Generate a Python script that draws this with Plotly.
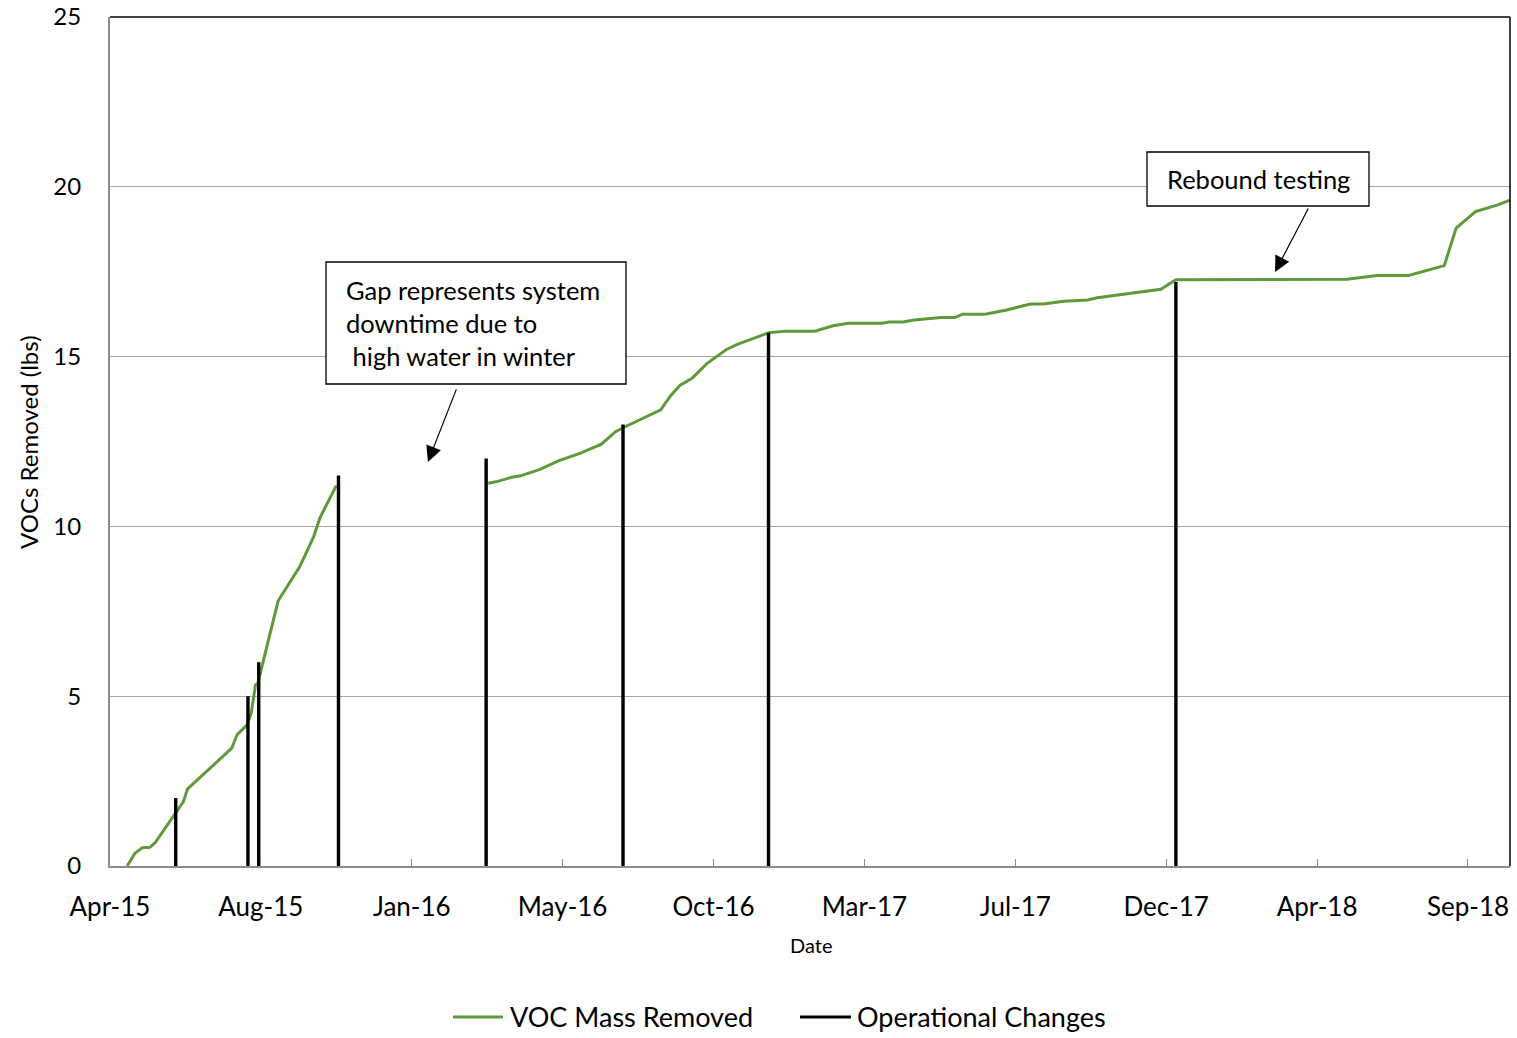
import plotly.graph_objects as go

# Cumulative VOC mass removed (lbs); None marks the winter downtime gap
voc_dates = [
    "2015-04-17", "2015-04-24", "2015-05-01", "2015-05-08", "2015-05-13",
    "2015-06-08", "2015-06-12", "2015-07-23", "2015-07-28", "2015-08-06",
    "2015-08-10", "2015-08-14", "2015-08-16", "2015-09-04", "2015-09-24",
    "2015-10-07", "2015-10-13", "2015-10-28",
    None,
    "2016-03-17", "2016-03-25", "2016-04-08", "2016-04-16", "2016-05-04",
    "2016-05-21", "2016-06-10", "2016-06-23", "2016-06-30", "2016-07-13",
    "2016-07-21", "2016-08-24", "2016-09-02", "2016-09-11", "2016-09-22",
    "2016-10-06", "2016-10-24", "2016-11-03", "2016-12-02", "2016-12-18",
    "2017-01-14", "2017-01-31", "2017-02-14", "2017-03-17", "2017-03-24",
    "2017-04-06", "2017-04-16", "2017-05-11", "2017-05-24", "2017-05-31",
    "2017-06-21", "2017-07-11", "2017-08-02", "2017-08-14", "2017-09-02",
    "2017-09-24", "2017-10-03", "2017-12-01", "2017-12-15", "2018-05-23",
    "2018-06-01", "2018-06-20", "2018-07-19", "2018-08-19", "2018-08-21",
    "2018-09-01", "2018-09-19", "2018-10-09", "2018-10-21",
]
voc_lbs = [
    0.0, 0.37, 0.54, 0.55, 0.69,
    1.89, 2.27, 3.47, 3.87, 4.15,
    4.5, 5.33, 5.36, 7.81, 8.81,
    9.70, 10.27, 11.2,
    None,
    11.27, 11.32, 11.45, 11.49, 11.68,
    11.93, 12.15, 12.33, 12.42, 12.79,
    12.92, 13.43, 13.84, 14.16, 14.36,
    14.80, 15.21, 15.36, 15.70, 15.75,
    15.75, 15.91, 15.98, 15.98, 16.02,
    16.02, 16.08, 16.15, 16.15, 16.25,
    16.25, 16.37, 16.55, 16.55, 16.63,
    16.67, 16.73, 16.98, 17.26, 17.28,
    17.32, 17.39, 17.39, 17.65, 17.68,
    18.78, 19.27, 19.46, 19.61,
]

# Operational change markers: date and bar height
change_dates = [
    "2015-06-01", "2015-08-07", "2015-08-17", "2015-10-30",
    "2016-03-15", "2016-07-20", "2016-12-02", "2017-12-15",
]
change_heights = [2.0, 5.0, 6.0, 11.5, 12.0, 13.0, 15.7, 17.2]

y_ticks = [0, 5, 10, 15, 20, 25]

series_names = ["VOC Mass Removed", "Operational Changes"]

FONT = "Lato"
GREEN = "#5E9A3A"
DAY_MS = 86400000

# plot area in pixels (used to place callouts and the legend)
L, R, T, B = 110, 1510, 17, 866
W, H = R - L, B - T


def px(x):
    return (x - L) / W


def py(y):
    return (B - y) / H


# Build vertical segments from 0 up to each change height
seg_x, seg_y = [], []
for d, h in zip(change_dates, change_heights):
    seg_x += [d, d, None]
    seg_y += [0, h, None]

fig = go.Figure()
fig.add_trace(go.Scatter(
    x=voc_dates, y=voc_lbs, mode="lines", name=series_names[0],
    line=dict(color=GREEN, width=3), connectgaps=False, showlegend=False,
))
fig.add_trace(go.Scatter(
    x=seg_x, y=seg_y, mode="lines", name=series_names[1],
    line=dict(color="black", width=3.4), connectgaps=False, showlegend=False,
))

shapes = [
    # plot area border on top and right
    dict(type="line", xref="paper", yref="paper", x0=0, x1=1, y0=1, y1=1,
         line=dict(color="black", width=1.5)),
    dict(type="line", xref="paper", yref="paper", x0=1, x1=1, y0=0, y1=1,
         line=dict(color="black", width=1.5)),
    # callout boxes
    dict(type="rect", xref="paper", yref="paper",
         x0=px(326), x1=px(626), y0=py(384), y1=py(262),
         line=dict(color="black", width=1.3), fillcolor="white", layer="above"),
    dict(type="rect", xref="paper", yref="paper",
         x0=px(1147), x1=px(1369), y0=py(206), y1=py(152),
         line=dict(color="black", width=1.3), fillcolor="white", layer="above"),
    # legend line samples
    dict(type="line", xref="paper", yref="paper",
         x0=px(453), x1=px(503), y0=py(1017), y1=py(1017),
         line=dict(color=GREEN, width=3)),
    dict(type="line", xref="paper", yref="paper",
         x0=px(800), x1=px(851), y0=py(1017), y1=py(1017),
         line=dict(color="black", width=3)),
]

annotations = [
    dict(xref="paper", yref="paper", x=px(344), y=py(323),
         xanchor="left", yanchor="middle", align="left", showarrow=False,
         text="Gap represents system<br>downtime due to<br>\u00a0high water in winter",
         font=dict(size=25.5, family=FONT, color="black")),
    dict(xref="paper", yref="paper", x=px(1258), y=py(179),
         xanchor="center", yanchor="middle", showarrow=False,
         text="Rebound testing",
         font=dict(size=25.5, family=FONT, color="black")),
    # arrows pointing from the callouts
    dict(x="2016-01-21", y=11.9, xref="x", yref="y", text="",
         showarrow=True, arrowhead=2, arrowsize=2.6, arrowwidth=1.2,
         arrowcolor="black", ax=29, ay=-74),
    dict(x="2018-03-17", y=17.49, xref="x", yref="y", text="",
         showarrow=True, arrowhead=2, arrowsize=2.6, arrowwidth=1.2,
         arrowcolor="black", ax=34, ay=-65),
    # axis titles
    dict(xref="paper", yref="paper", x=px(811), y=py(945),
         xanchor="center", yanchor="middle", showarrow=False,
         text="Date", font=dict(size=20, family=FONT, color="black")),
    dict(xref="paper", yref="paper", x=px(28), y=py(442),
         xanchor="center", yanchor="middle", showarrow=False, textangle=-90,
         text="VOCs Removed (lbs)", font=dict(size=24, family=FONT, color="black")),
    # legend labels
    dict(xref="paper", yref="paper", x=px(508), y=py(1017),
         xanchor="left", yanchor="middle", showarrow=False,
         text=series_names[0], font=dict(size=27, family=FONT, color="black")),
    dict(xref="paper", yref="paper", x=px(855), y=py(1017),
         xanchor="left", yanchor="middle", showarrow=False,
         text=series_names[1], font=dict(size=27, family=FONT, color="black")),
]

fig.update_layout(
    width=1517, height=1038,
    margin=dict(l=L, r=1517 - R, t=T, b=1038 - B, autoexpand=False),
    paper_bgcolor="white", plot_bgcolor="white",
    font=dict(family=FONT, size=24, color="black"),
    showlegend=False,
    xaxis=dict(
        type="date", range=["2015-04-01", "2018-10-21"],
        tick0="2015-04-01", dtick=140 * DAY_MS, tickformat="%b-%y",
        showgrid=False, zeroline=False, automargin=False,
        showline=True, linecolor="#8C8C8C", linewidth=2,
        ticks="inside", ticklen=7, tickcolor="#8C8C8C", tickwidth=1,
        ticklabelstandoff=17,
        tickfont=dict(size=26),
    ),
    yaxis=dict(
        range=[0, 25], tickvals=y_ticks,
        showgrid=True, gridcolor="#A6A6A6", gridwidth=1,
        zeroline=False, automargin=False,
        showline=True, linecolor="#8C8C8C", linewidth=2,
        ticks="", ticklabelstandoff=22,
        tickfont=dict(size=24),
    ),
    shapes=shapes,
    annotations=annotations,
)

fig.write_html("out.html")
